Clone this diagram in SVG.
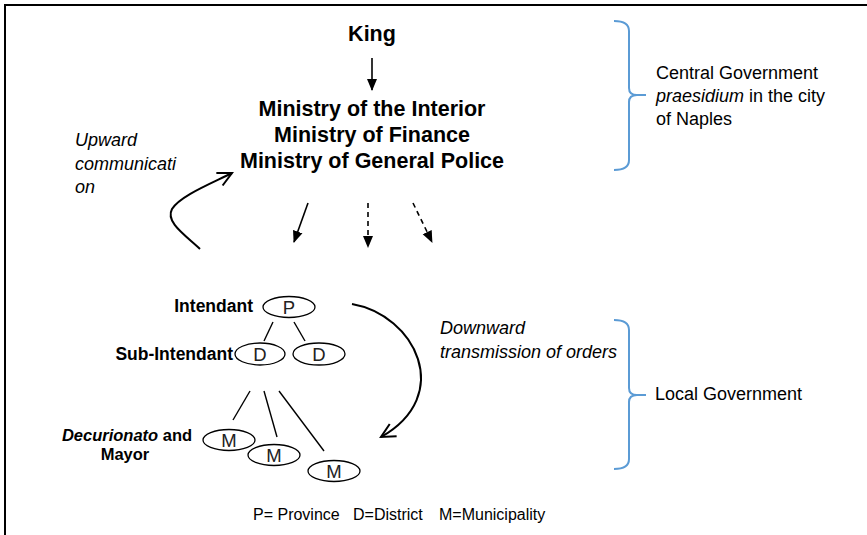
<svg xmlns="http://www.w3.org/2000/svg" width="867" height="535" viewBox="0 0 867 535">
<defs>
<style>
text{font-family:"Liberation Sans",Arial,sans-serif;fill:#000}
.b{font-weight:bold}
.i{font-style:italic}
.t{font-size:21.5px;font-weight:bold;text-anchor:middle}
.lab{font-size:17.5px;font-weight:bold}
.note{font-size:18px}
.nd{fill:#fff;stroke:#000;stroke-width:1.3}
.nl{font-size:18.5px;text-anchor:middle;fill:#222}
.tree{stroke:#000;stroke-width:1.4;fill:none}
.arr{stroke:#000;stroke-width:1.6;fill:none}
.dash{stroke-dasharray:5,4}
.curve{stroke:#000;stroke-width:2;fill:none}
.brace{stroke:#5B9BD5;stroke-width:2;fill:none}
</style>
<marker id="tri" markerUnits="userSpaceOnUse" markerWidth="12" markerHeight="12" viewBox="0 0 12 12" refX="11" refY="6" orient="auto">
<path d="M0,1 L12,6 L0,11 Z" fill="#000"/>
</marker>
<marker id="vee" markerUnits="userSpaceOnUse" markerWidth="20" markerHeight="20" viewBox="0 0 20 20" refX="18" refY="10" orient="auto">
<path d="M4,3 L18,10 L4,17" fill="none" stroke="#000" stroke-width="2"/>
</marker>
</defs>
<rect width="867" height="535" fill="#fff"/>
<path d="M5,535 L5,5 L867,5" fill="none" stroke="#000" stroke-width="2"/>

<g id="king"><text class="t" x="372" y="41">King</text></g>
<g id="ministries">
<text class="t" x="372" y="116">Ministry of the Interior</text>
<text class="t" x="372" y="142">Ministry of Finance</text>
<text class="t" x="372" y="168">Ministry of General Police</text>
</g>

<g id="central-brace">
<path class="brace" d="M614,21 Q629,21 629,31 L629,88 Q629,95 637,95 L646,95 M637,95 Q629,95 629,102 L629,160 Q629,170 614,170"/>
<text class="note" x="656" y="79">Central Government</text>
<text class="note" x="656" y="102"><tspan class="i">praesidium</tspan> in the city</text>
<text class="note" x="656" y="125">of Naples</text>
</g>

<g id="local-brace">
<path class="brace" d="M614,320 Q629,320 629,330 L629,388 Q629,395 637,395 L646,395 M637,395 Q629,395 629,402 L629,459 Q629,469 614,469"/>
<text class="note" x="655" y="400">Local Government</text>
</g>

<g id="upward-label">
<text class="note i" x="75" y="146">Upward</text>
<text class="note i" x="75" y="170">communicati</text>
<text class="note i" x="75" y="193">on</text>
</g>

<g id="downward-label">
<text class="note i" x="440" y="334">Downward</text>
<text class="note i" x="440" y="358">transmission of orders</text>
</g>

<g id="connectors">
<line class="arr" x1="372" y1="58" x2="372" y2="90" marker-end="url(#tri)"/>
<line class="arr" x1="308" y1="203" x2="294" y2="242" marker-end="url(#tri)"/>
<line class="arr dash" x1="368" y1="203" x2="368" y2="247" marker-end="url(#tri)"/>
<line class="arr dash" x1="413" y1="203" x2="432" y2="242" marker-end="url(#tri)"/>
<path class="curve" d="M200,249 C185,235 165,222 172,209 C180,196 210,184 232,173" marker-end="url(#vee)"/>
<path class="curve" d="M352,304 C415,315 455,395 381,437" marker-end="url(#vee)"/>
<line class="tree" x1="273" y1="322" x2="264" y2="341"/>
<line class="tree" x1="294" y1="322" x2="305" y2="341"/>
<line class="tree" x1="250" y1="391" x2="233" y2="420"/>
<line class="tree" x1="264" y1="391" x2="277" y2="437"/>
<line class="tree" x1="279" y1="391" x2="324" y2="451"/>
</g>

<g id="node-P">
<ellipse class="nd" cx="289" cy="307" rx="26" ry="10.5"/>
<text class="nl" x="289" y="314">P</text>
<text class="lab" x="253" y="312" text-anchor="end">Intendant</text>
</g>
<g id="node-D1">
<ellipse class="nd" cx="260" cy="354" rx="25" ry="11"/>
<text class="nl" x="260" y="361">D</text>
<text class="lab" x="233" y="360" text-anchor="end">Sub-Intendant</text>
</g>
<g id="node-D2">
<ellipse class="nd" cx="319" cy="354" rx="26" ry="11"/>
<text class="nl" x="319" y="361">D</text>
</g>
<g id="node-M1">
<ellipse class="nd" cx="229" cy="440" rx="26" ry="10.5"/>
<text class="nl" x="229" y="447">M</text>
<text class="lab" x="127" y="441" text-anchor="middle" style="font-size:16.5px"><tspan class="i">Decurionato</tspan> and</text>
<text class="lab" x="125" y="460" text-anchor="middle" style="font-size:16.5px">Mayor</text>
</g>
<g id="node-M2">
<ellipse class="nd" cx="274" cy="455" rx="26" ry="10.5"/>
<text class="nl" x="274" y="462">M</text>
</g>
<g id="node-M3">
<ellipse class="nd" cx="334" cy="471" rx="26" ry="10.5"/>
<text class="nl" x="334" y="478">M</text>
</g>

<g id="legend">
<text x="253" y="520" style="font-size:16px">P= Province</text>
<text x="353" y="520" style="font-size:16px">D=District</text>
<text x="439" y="520" style="font-size:16px">M=Municipality</text>
</g>
</svg>
